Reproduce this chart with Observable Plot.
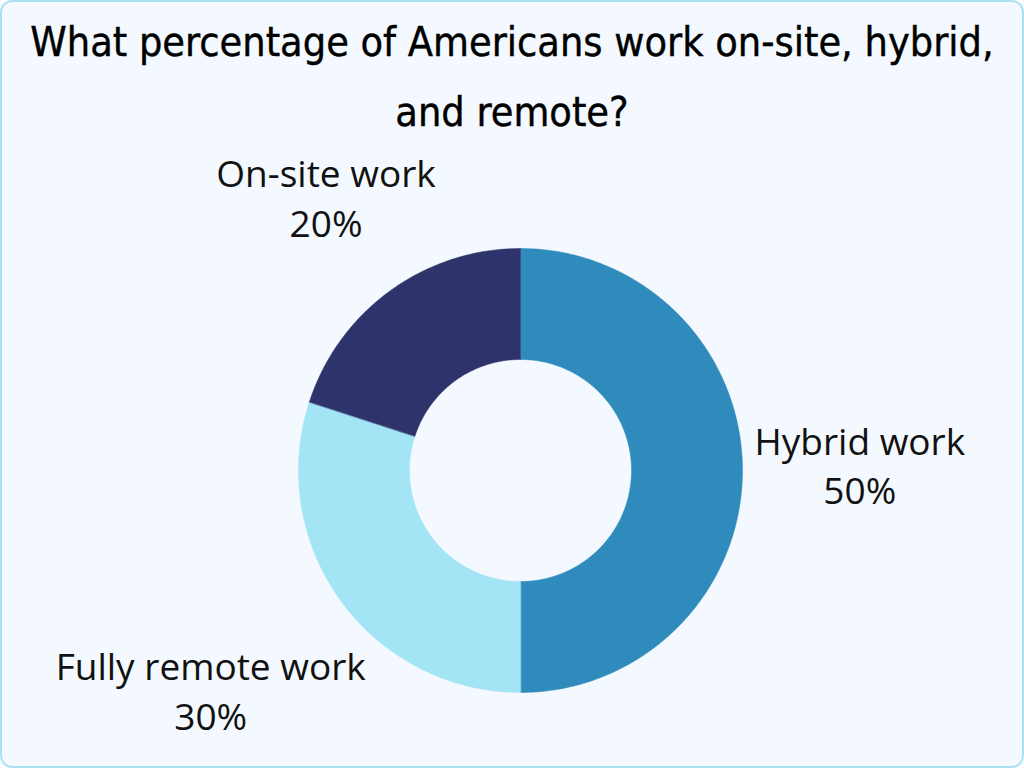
<!DOCTYPE html>
<html>
<head>
<meta charset="utf-8">
<script src="https://cdn.jsdelivr.net/npm/d3@7"></script>
<script src="https://cdn.jsdelivr.net/npm/@observablehq/plot@0.6"></script>
<style>
  html, body { margin: 0; padding: 0; background: #ffffff; }
  #frame {
    position: relative; width: 1024px; height: 768px; box-sizing: border-box;
    border: 2px solid #a9e2f4; border-radius: 12px; background: #f3f9fe; overflow: hidden;
  }
  #title {
    position: absolute; left: 0; top: 5px; width: 1020px; text-align: center;
    font-family: "DejaVu Sans Condensed", "Liberation Sans Narrow", sans-serif;
    font-size: 41px; line-height: 70px; color: #000; white-space: nowrap;
    -webkit-text-stroke: 0.4px #000;
  }
  #chart { position: absolute; left: 0; top: 140px; }
</style>
</head>
<body>
<div id="frame">
  <div id="title">What percentage of Americans work on-site, hybrid,<br>and remote?</div>
  <div id="chart"></div>
</div>
<script>
const categories = ["Hybrid work", "Fully remote work", "On-site work"];
const shares = [50, 30, 20];
const colors = ["#2e8bbc", "#a3e4f5", "#2f336b"];

const innerRatio = 0.5;
const W = 1020, H = 626;
const cx = 518, cy = 328, R = 222;
const labelFont = "'Open Sans', sans-serif";
const labelSize = 37;
const lineH = 1.35;

const total = d3.sum(shares);
const polys = [];
const labels = [];
let acc = 0;
const ctx = document.createElement("canvas").getContext("2d");
ctx.font = `${labelSize}px ${labelFont}`;
categories.forEach((cat, i) => {
  const f0 = acc / total, f1 = (acc + shares[i]) / total;
  acc += shares[i];
  const n = Math.max(8, Math.ceil((f1 - f0) * 360));
  const pts = [];
  for (let k = 0; k <= n; k++) {
    const t = 2 * Math.PI * (f0 + (f1 - f0) * k / n);
    pts.push({cat, x: Math.sin(t), y: Math.cos(t)});
  }
  for (let k = n; k >= 0; k--) {
    const t = 2 * Math.PI * (f0 + (f1 - f0) * k / n);
    pts.push({cat, x: innerRatio * Math.sin(t), y: innerRatio * Math.cos(t)});
  }
  polys.push(...pts);
  const tm = 2 * Math.PI * (f0 + f1) / 2;
  const dx = Math.sin(tm), dy = Math.cos(tm);
  const text = `${cat}\n${shares[i]}%`;
  const w = Math.max(ctx.measureText(cat).width, ctx.measureText(shares[i] + "%").width);
  const h = 80;
  const rp = R + 12 + Math.abs(dx) * w / 2 + Math.abs(dy) * h / 2;
  labels.push({text, x: dx * rp / R, y: dy * rp / R});
});

const chart = Plot.plot({
  width: W, height: H,
  margin: 0,
  style: {background: "transparent"},
  x: {domain: [-1, 1], range: [cx - R, cx + R], axis: null},
  y: {domain: [-1, 1], range: [cy + R, cy - R], axis: null},
  color: {domain: categories, range: colors},
  marks: [
    Plot.line(polys, {x: "x", y: "y", z: "cat", fill: "cat", stroke: "cat", strokeWidth: 0.5, curve: "linear-closed"}),
    Plot.text(labels, {x: "x", y: "y", text: "text", fontSize: labelSize, fontFamily: labelFont,
      lineAnchor: "middle", lineHeight: lineH, textAnchor: "middle", fill: "#111", dy: -7})
  ]
});
document.getElementById("chart").appendChild(chart);
</script>
</body>
</html>
